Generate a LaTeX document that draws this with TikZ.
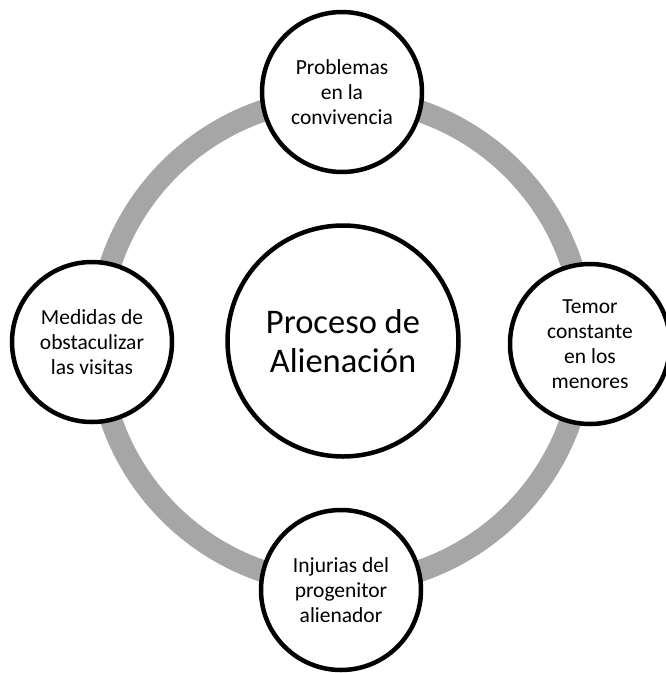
\documentclass[tikz,border=0pt]{standalone}
\usepackage{fontspec}
\setmainfont{Carlito}
\definecolor{ringgray}{RGB}{166,166,166}
\begin{document}
\begin{tikzpicture}[x=1pt,y=-1pt,
  outer/.style={circle, draw=black, fill=white, line width=4.5pt, minimum size=160pt, inner sep=0pt, align=center, font=\fontsize{21.5}{25}\selectfont},
  core/.style={circle, draw=black, fill=white, line width=4.5pt, minimum size=231pt, inner sep=0pt, align=center, font=\fontsize{34.5}{39}\selectfont},
  ring/.style={draw=ringgray, line width=22pt}]
\useasboundingbox (0,0) rectangle (666,673);
\coordinate (rc) at (341,341);
\draw[ring] (rc) circle[radius=243];
\node[core] (centre) at (343,341) {Proceso de\\Alienación};
\node[outer] (top) at (342,92) {Problemas\\en la\\convivencia};
\node[outer] (right) at (590,344) {Temor\\constante\\en los\\menores};
\node[outer] (bottom) at (341,590) {Injurias del\\progenitor\\alienador};
\node[outer] (left) at (92,342) {Medidas de\\obstaculizar\\las visitas};
\end{tikzpicture}
\end{document}
